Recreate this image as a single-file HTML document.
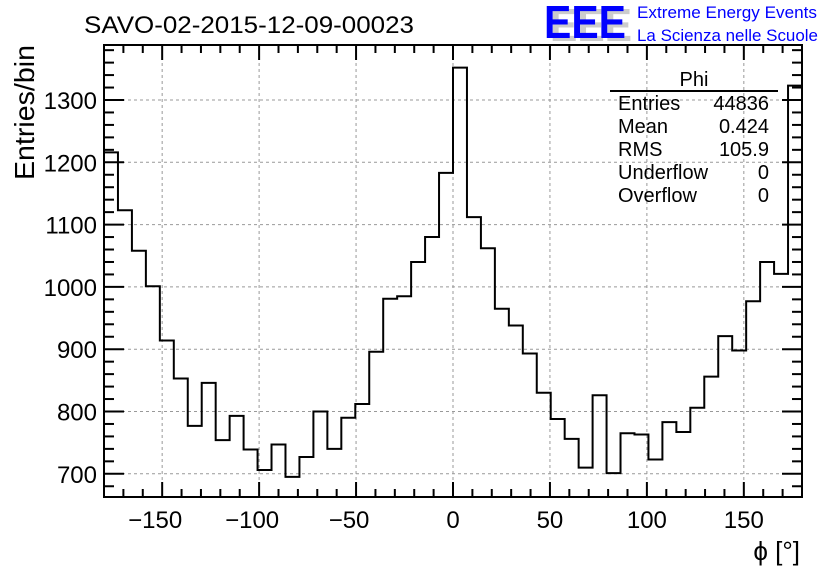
<!DOCTYPE html>
<html><head><meta charset="utf-8"><style>
html,body{margin:0;padding:0;background:#fff;}
svg{display:block;font-family:"Liberation Sans",sans-serif;}
</style></head><body>
<svg id="s" width="836" height="572" xmlns="http://www.w3.org/2000/svg">
<rect width="836" height="572" fill="#fff"/>
<g id="grid" stroke="#999" stroke-dasharray="3,3" stroke-width="1"></g>
<path id="h" fill="none" stroke="#000" stroke-width="2"/>
<g id="ticks" stroke="#000" stroke-width="2"></g>
<rect x="104" y="45" width="698" height="452" fill="none" stroke="#000" stroke-width="2"/>
<text x="84" y="33" font-size="24" textLength="330" lengthAdjust="spacingAndGlyphs">SAVO-02-2015-12-09-00023</text>
<g font-size="24" text-anchor="end" id="yl"></g>
<g font-size="24" text-anchor="middle" id="xl"></g>
<text transform="translate(34,45) rotate(-90)" font-size="28" text-anchor="end" textLength="135" lengthAdjust="spacingAndGlyphs">Entries/bin</text>
<text x="800" y="560" font-size="26" text-anchor="end">ϕ [°]</text>
<text x="550" y="41" fill="#ccc" font-size="46" font-weight="bold" textLength="82" lengthAdjust="spacingAndGlyphs">EEE</text>
<text x="544" y="38" fill="#00f" font-size="46" font-weight="bold" textLength="82" lengthAdjust="spacingAndGlyphs">EEE</text>
<text x="637" y="18" font-size="17" fill="#00f" textLength="180" lengthAdjust="spacingAndGlyphs">Extreme Energy Events</text>
<text x="637" y="41" font-size="17" fill="#00f" textLength="181" lengthAdjust="spacingAndGlyphs">La Scienza nelle Scuole</text>
<text x="694" y="86" font-size="20" text-anchor="middle">Phi</text>
<line x1="610" y1="91" x2="778" y2="91" stroke="#000" stroke-width="2"/>
<g font-size="20">
<text x="618" y="110">Entries</text><text x="769" y="110" text-anchor="end">44836</text>
<text x="618" y="133">Mean</text><text x="769" y="133" text-anchor="end">0.424</text>
<text x="618" y="156">RMS</text><text x="769" y="156" text-anchor="end">105.9</text>
<text x="618" y="179">Underflow</text><text x="769" y="179" text-anchor="end">0</text>
<text x="618" y="202">Overflow</text><text x="769" y="202" text-anchor="end">0</text>
</g>
</svg>
<script>
var NS="http://www.w3.org/2000/svg";
function X(v){return 104+(v+180)*698/360;}
function Y(v){return 100+(1300-v)*0.623;}
function el(p,t,a,txt){var e=document.createElementNS(NS,t);for(var k in a)e.setAttribute(k,a[k]);if(txt!=null)e.textContent=txt;document.getElementById(p).appendChild(e);}
var d=[1216,1123,1058,1001,914,853,777,846,754,793,739,706,747,695,727,800,740,790,812,896,981,985,1040,1080,1183,1352,1112,1062,965,938,893,830,788,756,710,826,701,765,763,723,783,767,806,856,921,898,977,1040,1021,1323];
var p="M"+X(-180)+","+Y(d[0]);
for(var i=0;i<50;i++){var x0=X(-180+7.2*i),x1=X(-180+7.2*(i+1));p+=" L"+x0+","+Y(d[i])+" L"+x1+","+Y(d[i]);if(i<49)p+=" L"+x1+","+Y(d[i+1]);}
document.getElementById("h").setAttribute("d",p);
for(var v=-150;v<=150;v+=50){el("grid","line",{x1:X(v),x2:X(v),y1:45,y2:497});el("xl","text",{x:X(v)-(v<0?7:0),y:528},(v<0?"\u2212":"")+Math.abs(v));}
for(var v=700;v<=1300;v+=100){el("grid","line",{x1:104,x2:802,y1:Y(v),y2:Y(v)});el("yl","text",{x:97,y:Y(v)+9},v);}
for(var v=-170;v<=170;v+=10){var L=(v%50==0)?15:8;el("ticks","line",{x1:X(v),x2:X(v),y1:497,y2:497-L});el("ticks","line",{x1:X(v),x2:X(v),y1:45,y2:45+L});}
for(var v=680;v<=1380;v+=20){var y=Y(v);if(y<46||y>496)continue;var L=(v%100==0)?20:10;el("ticks","line",{x1:104,x2:104+L,y1:y,y2:y});el("ticks","line",{x1:802,x2:802-L,y1:y,y2:y});}
</script>
</body></html>
